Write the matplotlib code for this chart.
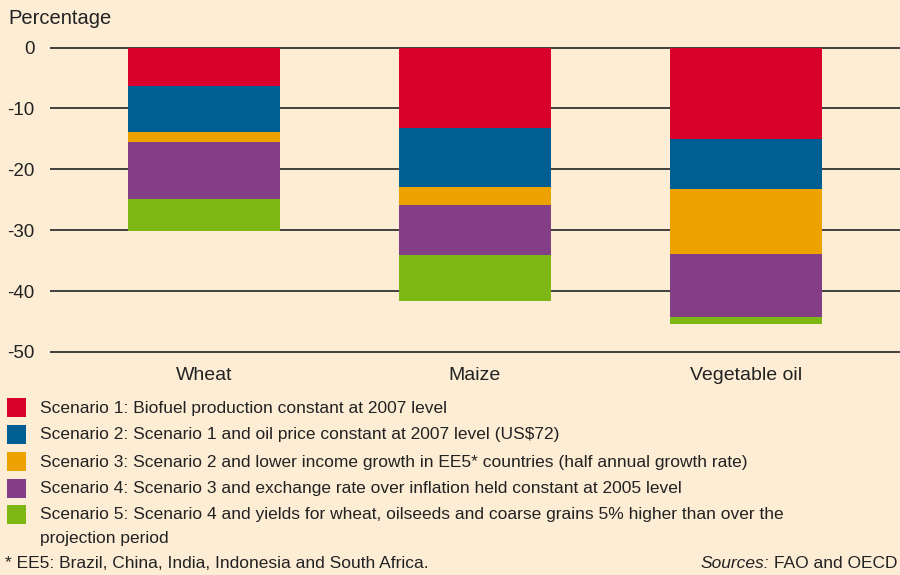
import matplotlib
matplotlib.use("Agg")
import matplotlib.pyplot as plt
from matplotlib.patches import Rectangle
import numpy as np

categories = ["Wheat", "Maize", "Vegetable oil"]

# contribution of each scenario (percentage points, stacked downwards)
scenario1 = [-6.3, -13.2, -15.0]
scenario2 = [-7.6, -9.7, -8.2]
scenario3 = [-1.6, -3.0, -10.7]
scenario4 = [-9.4, -8.2, -10.4]
scenario5 = [-5.3, -7.5, -1.1]

scenario_labels = [
    "Scenario 1: Biofuel production constant at 2007 level",
    "Scenario 2: Scenario 1 and oil price constant at 2007 level (US$72)",
    "Scenario 3: Scenario 2 and lower income growth in EE5* countries (half annual growth rate)",
    "Scenario 4: Scenario 3 and exchange rate over inflation held constant at 2005 level",
    "Scenario 5: Scenario 4 and yields for wheat, oilseeds and coarse grains 5% higher than over the\nprojection period",
]
colors = ["#D9002C", "#005F92", "#EEA200", "#833E85", "#7DB715"]
yticks = [0, -10, -20, -30, -40, -50]

bg = "#FDEDD5"
txt = "#222222"
plt.rcParams["font.family"] = ["Liberation Sans", "DejaVu Sans"]

W, H = 900, 575
fig = plt.figure(figsize=(9, 5.75), dpi=100, facecolor=bg)


def fx(x):
    return x / W


def fy(y):
    return 1 - y / H


# axes: left edge at 50px, top at y=0.5, bottom at y=-50.5
ax = fig.add_axes([fx(50), fy(355), fx(850), (355 - 44.5) / H])
ax.set_facecolor(bg)
for s in ax.spines.values():
    s.set_visible(False)

for t in yticks:
    ax.axhline(t, color="#333333", lw=1.3, zorder=1)

x = np.arange(len(categories))
series = [scenario1, scenario2, scenario3, scenario4, scenario5]
bottom = np.zeros(len(categories))
for vals, c in zip(series, colors):
    ax.bar(x, vals, bottom=bottom, width=0.56, color=c, zorder=2, linewidth=0)
    bottom = bottom + np.array(vals)

ax.set_xlim(-0.568, 2.568)
ax.set_ylim(-50.5, 0.5)
ax.set_yticks(yticks)
ax.set_yticklabels([str(t) for t in yticks], fontsize=13.5, color=txt)
ax.tick_params(axis="y", length=0, pad=11)
ax.set_xticks(x)
ax.set_xticklabels(categories, fontsize=14, color=txt)
ax.tick_params(axis="x", length=0, pad=9)

fig.text(fx(8), fy(18), "Percentage", fontsize=14.5, color=txt, va="center", ha="left")

# legend
row_y = [408, 435, 462, 489, 515]
for ry, lab, c in zip(row_y, scenario_labels, colors):
    fig.add_artist(Rectangle((fx(7), fy(ry + 9)), fx(19), 19 / H,
                             transform=fig.transFigure, facecolor=c, edgecolor="none"))
    for i, line in enumerate(lab.split("\n")):
        fig.text(fx(40), fy(ry + 23 * i), line, fontsize=12.5, color=txt,
                 va="center", ha="left")

fig.text(fx(5), fy(563), "* EE5: Brazil, China, India, Indonesia and South Africa.",
         fontsize=12.5, color=txt, va="center", ha="left")
src = fig.text(fx(898), fy(563), "FAO and OECD", fontsize=12.5, color=txt,
               va="center", ha="right")
fig.canvas.draw()
x0 = src.get_window_extent().x0
fig.text((x0 - 5) / W, fy(563), "Sources:", fontsize=12.5, color=txt, va="center",
         ha="right", style="italic")

fig.savefig("out.png", dpi=100, facecolor=bg)
